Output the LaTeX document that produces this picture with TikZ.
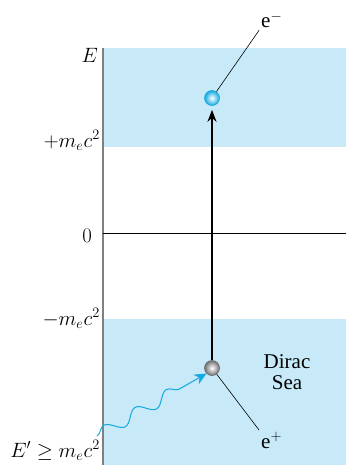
\documentclass[tikz,border=0pt]{standalone}
\usepackage{fontspec}
\setmainfont{Liberation Serif}
\usepackage{tikz}
\usetikzlibrary{arrows.meta, decorations.pathmorphing, positioning}
\definecolor{marazul}{RGB}{199, 233, 248}
\definecolor{fotao}{RGB}{20, 170, 225}

\begin{document}
\begin{tikzpicture}[x=1pt, y=-1pt,
    rotulo/.style={font=\fontsize{21}{23}\selectfont},
    particula/.style={circle, minimum size=15pt, inner sep=0pt, line width=0.6pt}]
  \useasboundingbox (0,0) rectangle (346,465);
  % faixas de energia
  \fill[marazul] (104,48) rectangle (346,147);
  \fill[marazul] (104,319) rectangle (346,465);
  % eixo e zero
  \draw[line width=1.4pt, black!50] (103,48) -- (103,465);
  \draw[line width=0.5pt] (103,233) -- (346,233);
  % rotulos do eixo
  \node[rotulo, anchor=base east, inner sep=0pt] (eixoE) at (98,63) {$E$};
  \node[rotulo, anchor=base east, inner sep=0pt] (mais) at (100,147) {$+m_ec^2$};
  \node[rotulo, anchor=base east, inner sep=0pt] (zero) at (92,242) {$0$};
  \node[rotulo, anchor=base east, inner sep=0pt] (menos) at (100,325) {$-m_ec^2$};
  \node[rotulo, anchor=base east, inner sep=0pt] (foton) at (100,457) {$E' \geq m_ec^2$};
  % particulas
  \node[particula, inner color=white, outer color=fotao, draw=fotao] (ele) at (212,98) {};
  \node[particula, inner color=white, outer color=black!55, draw=black!60] (pos) at (212,368) {};
  \node[rotulo, anchor=base west, inner sep=0pt] (eminus) at (261,28) {e$^-$};
  \node[rotulo, anchor=base west, inner sep=0pt] (eplus) at (261,448) {e$^+$};
  \draw[line width=0.6pt] (ele) -- ([shift={(-2pt,-2pt)}]eminus.south west);
  \draw[line width=0.6pt] (pos) -- ([shift={(-2pt,2pt)}]eplus.north west);
  % salto de energia
  \draw[-{Stealth[length=12pt, width=9pt]}, line width=2pt] (pos.north) -- ([yshift=-4pt]ele.south);
  % mar de Dirac
  \node[rotulo, align=center, inner sep=0pt] (mar) at (287,372) {Dirac\\[-2pt]Sea};
  % foton incidente
  \coordinate (entra) at (97,436);
  \draw[fotao, line width=1pt, -{Stealth[length=12pt, width=11pt]},
    decorate, decoration={snake, amplitude=6pt, segment length=36pt, pre length=0pt, post length=14pt}]
    (entra) -- (pos.south west);
\end{tikzpicture}
\end{document}
